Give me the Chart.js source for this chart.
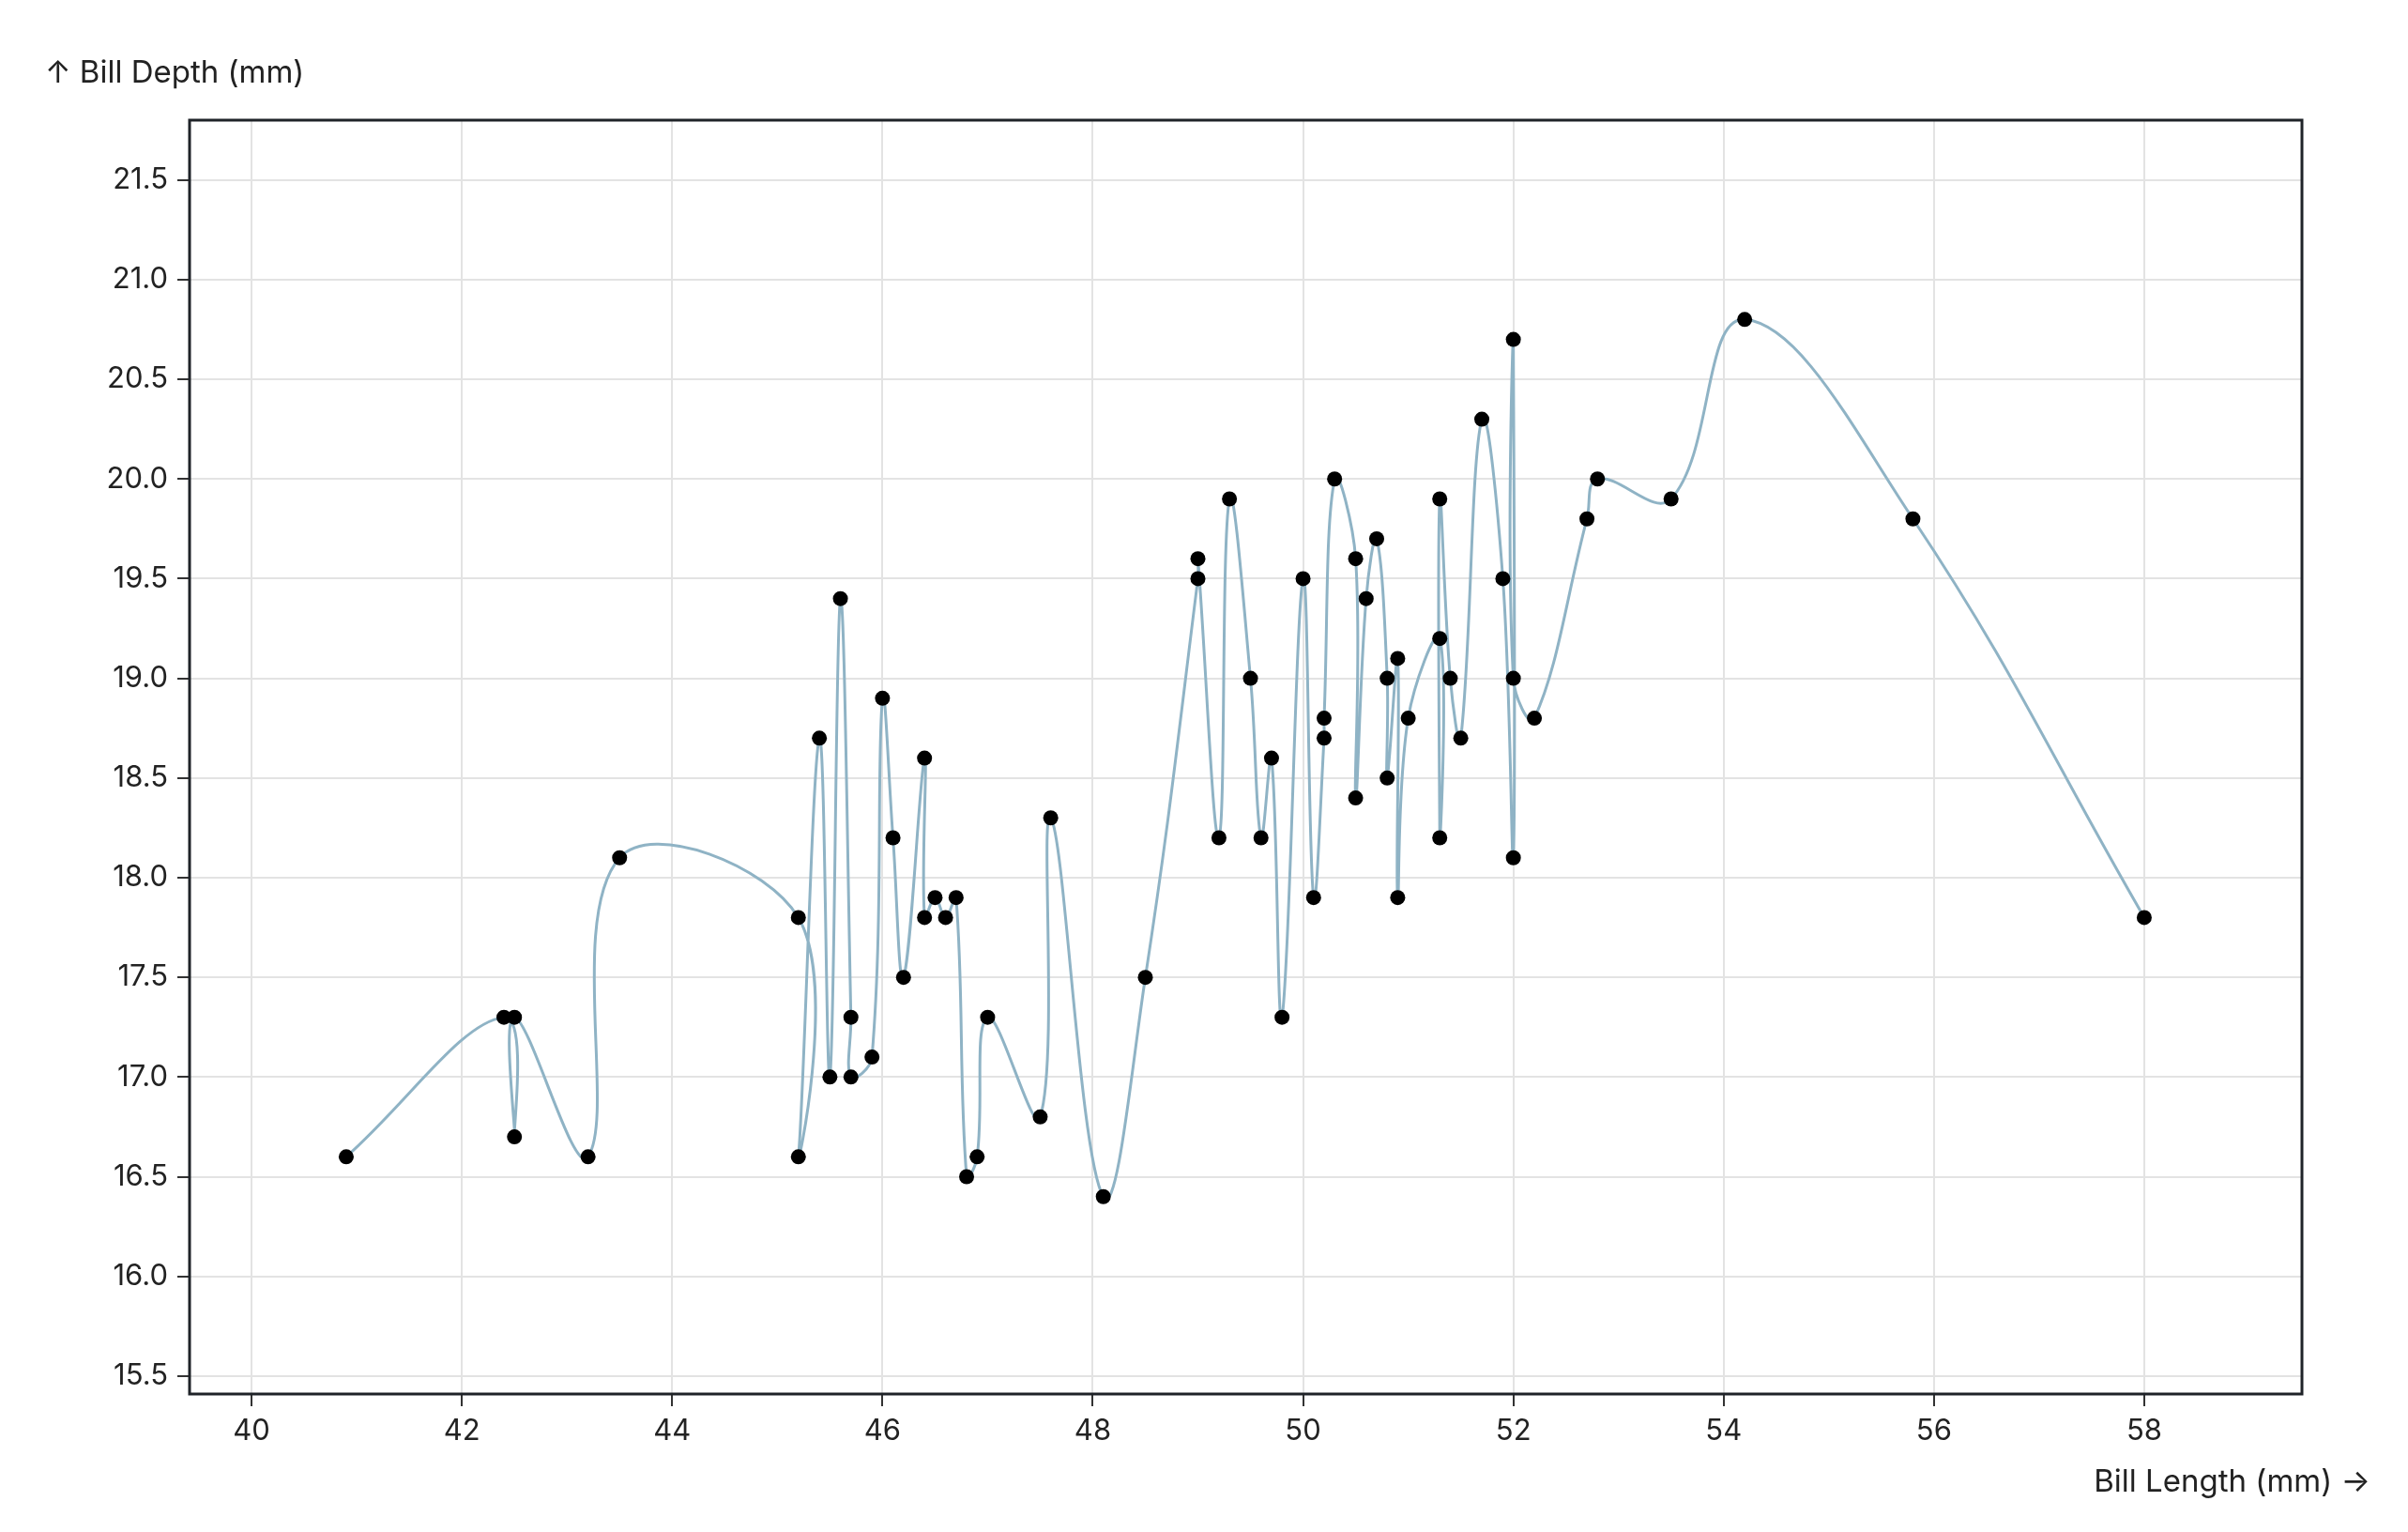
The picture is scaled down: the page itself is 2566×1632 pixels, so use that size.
<!DOCTYPE html>
<html><head><meta charset="utf-8">
<script src="https://cdn.jsdelivr.net/npm/chart.js@4"></script>
<style>html,body{margin:0;padding:0;background:#fff}</style>
</head><body>
<canvas id="c" width="2566" height="1632" style="width:2566px;height:1632px"></canvas>
<script>
const billLength = [40.9,42.4,42.5,42.5,43.2,43.5,45.2,45.2,45.4,45.5,45.6,45.7,45.7,45.9,46.0,46.1,46.2,46.4,46.4,46.5,46.6,46.7,46.8,46.9,47.0,47.5,47.6,48.1,48.5,49.0,49.0,49.2,49.3,49.5,49.6,49.7,49.8,50.0,50.1,50.2,50.2,50.3,50.5,50.5,50.6,50.7,50.8,50.8,50.9,50.9,51.0,51.3,51.3,51.3,51.4,51.5,51.7,51.9,52.0,52.0,52.0,52.2,52.7,52.8,53.5,54.2,55.8,58.0];
const billDepth  = [16.6,17.3,16.7,17.3,16.6,18.1,17.8,16.6,18.7,17.0,19.4,17.3,17.0,17.1,18.9,18.2,17.5,18.6,17.8,17.9,17.8,17.9,16.5,16.6,17.3,16.8,18.3,16.4,17.5,19.5,19.6,18.2,19.9,19.0,18.2,18.6,17.3,19.5,17.9,18.7,18.8,20.0,19.6,18.4,19.4,19.7,19.0,18.5,19.1,17.9,18.8,19.2,18.2,19.9,19.0,18.7,20.3,19.5,18.1,20.7,19.0,18.8,19.8,20.0,19.9,20.8,19.8,17.8];
const xTicks = [40,42,44,46,48,50,52,54,56,58];
const yTicks = [15.5,16.0,16.5,17.0,17.5,18.0,18.5,19.0,19.5,20.0,20.5,21.0,21.5];
const xTitle = "Bill Length (mm) →";
const yTitle = "↑ Bill Depth (mm)";

const FONT = "Inter, 'Noto Sans', sans-serif";
const pts = billLength.map((x,i)=>({x, y: billDepth[i]}));

const deco = {
  id:'deco',
  afterDraw(ch){
    const c = ch.ctx, a = ch.chartArea;
    c.save();
    c.strokeStyle = '#1f2328'; c.lineWidth = 3;
    c.strokeRect(a.left, a.top, a.right-a.left, a.bottom-a.top);
    c.fillStyle = '#222'; c.font = '33px ' + FONT;
    c.textBaseline = 'middle';
    c.textAlign = 'left'; c.fillText(yTitle, 48, 78);
    c.textAlign = 'right'; c.fillText(xTitle, 2526, 1579);
    c.restore();
  }
};

new Chart(document.getElementById('c'), {
  type:'line',
  data:{datasets:[{
    data: pts,
    borderColor:'#8fb3c5', borderWidth:3,
    tension:0.4,
    pointRadius:8, pointBackgroundColor:'#000', pointBorderColor:'#000', pointBorderWidth:0,
  }]},
  options:{
    responsive:false, animation:false, devicePixelRatio:1,
    layout:{padding:{top:128, right:113, left:0, bottom:0}},
    plugins:{legend:{display:false}, tooltip:{enabled:false}},
    scales:{
      x:{type:'linear', min:39.41, max:59.5,
        afterBuildTicks(s){ s.ticks = xTicks.map(v=>({value:v})); },
        afterFit(s){ s.height = 147; },
        grid:{color:'#e3e3e3', lineWidth:2, tickLength:13, tickColor:'#333', tickWidth:2},
        border:{display:false},
        ticks:{color:'#222', font:{size:31, family:FONT}, padding:8, maxRotation:0}
      },
      y:{type:'linear', min:15.41, max:21.8,
        afterBuildTicks(s){ s.ticks = yTicks.map(v=>({value:v})); },
        afterFit(s){ s.width = 202; },
        grid:{color:'#e3e3e3', lineWidth:2, tickLength:13, tickColor:'#333', tickWidth:2},
        border:{display:false},
        ticks:{color:'#222', font:{size:31, family:FONT}, padding:10, callback:v=>v.toFixed(1)}
      }
    }
  },
  plugins:[deco]
});
</script>
</body></html>
